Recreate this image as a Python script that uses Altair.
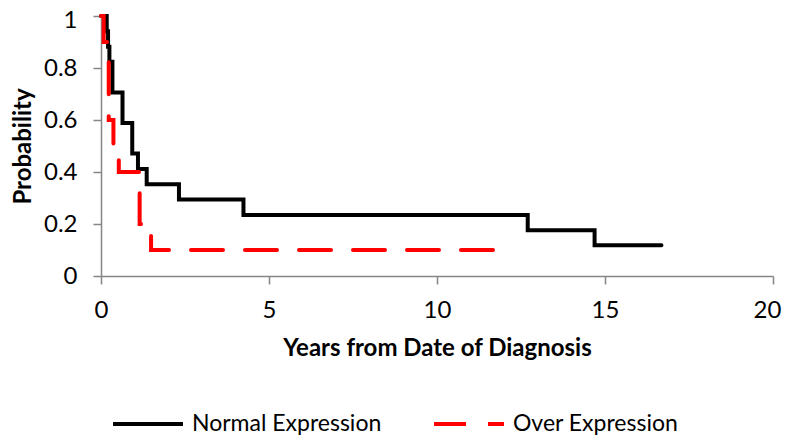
import altair as alt
import pandas as pd

# Kaplan-Meier style step data
normal_t = [0, 0.17, 0.21, 0.25, 0.34, 0.64, 0.93, 1.10, 1.36, 2.32, 4.24, 12.70, 14.69, 16.68]
normal_p = [1.0, 0.941, 0.882, 0.824, 0.706, 0.588, 0.471, 0.412, 0.353, 0.294, 0.235, 0.176, 0.118, 0.118]

over_t = [0, 0.08, 0.23, 0.37, 0.53, 1.15, 1.49, 12.30]
over_p = [1.0, 0.9, 0.6, 0.5, 0.4, 0.2, 0.1, 0.1]

series_names = ["Normal Expression", "Over Expression"]
series_colors = ["#000000", "#ff0000"]

x_ticks = [0, 5, 10, 15, 20]
y_ticks = [0, 0.2, 0.4, 0.6, 0.8, 1]

rows = []
for i, (t, p) in enumerate(zip(normal_t, normal_p)):
    rows.append({"t": t, "p": p, "s": series_names[0], "o": i})
for i, (t, p) in enumerate(zip(over_t, over_p)):
    rows.append({"t": t, "p": p, "s": series_names[1], "o": i})
df = pd.DataFrame(rows)

FONT = "Lato"

legend = alt.Legend(title=None, orient="none", legendX=10, legendY=371,
                    direction="horizontal", columns=2,
                    symbolType="stroke", symbolSize=4900,
                    symbolStrokeWidth=4, labelOffset=7, labelLimit=400,
                    columnPadding=44, labelFontSize=23,
                    labelFont=FONT, labelColor="black")

chart = alt.Chart(df).mark_line(
    interpolate="step-after", strokeWidth=4, strokeCap="round", strokeJoin="miter"
).encode(
    x=alt.X("t:Q", scale=alt.Scale(domain=[0, 20], nice=False),
            axis=alt.Axis(values=x_ticks, title="Years from Date of Diagnosis",
                          labelFlush=False,
                          labelOffset={"condition": {"test": "datum.value == 20", "value": -6},
                                       "value": 0},
                          labelPadding=14, titlePadding=14)),
    y=alt.Y("p:Q", scale=alt.Scale(domain=[0, 1], nice=False),
            axis=alt.Axis(values=y_ticks, format="~g", title="Probability",
                          labelFlush=False,
                          labelOffset={"condition": {"test": "datum.value == 1", "value": 4},
                                       "value": 0},
                          labelPadding=16, titlePadding=8)),
    color=alt.Color("s:N", scale=alt.Scale(domain=series_names, range=series_colors),
                    legend=legend),
    strokeDash=alt.StrokeDash("s:N", scale=alt.Scale(domain=series_names,
                                                     range=[[1, 0], [32, 22]]),
                              legend=legend),
    order="o:Q",
).properties(
    width=672, height=260,
    autosize=alt.AutoSizeParams(type="none"),
    padding={"left": 93, "top": 8, "right": 9, "bottom": 163},
).configure_view(
    stroke=None
).configure_axis(
    grid=False,
    domainColor="#868686", domainWidth=1.5,
    tickColor="#868686", tickWidth=1.5, tickSize=8,
    labelFont=FONT, labelFontSize=24, labelColor="black",
    titleFont=FONT, titleFontSize=24, titleFontWeight="bold", titleColor="black",
)

chart.save("out.html", embed_options={"renderer": "svg", "actions": False})
